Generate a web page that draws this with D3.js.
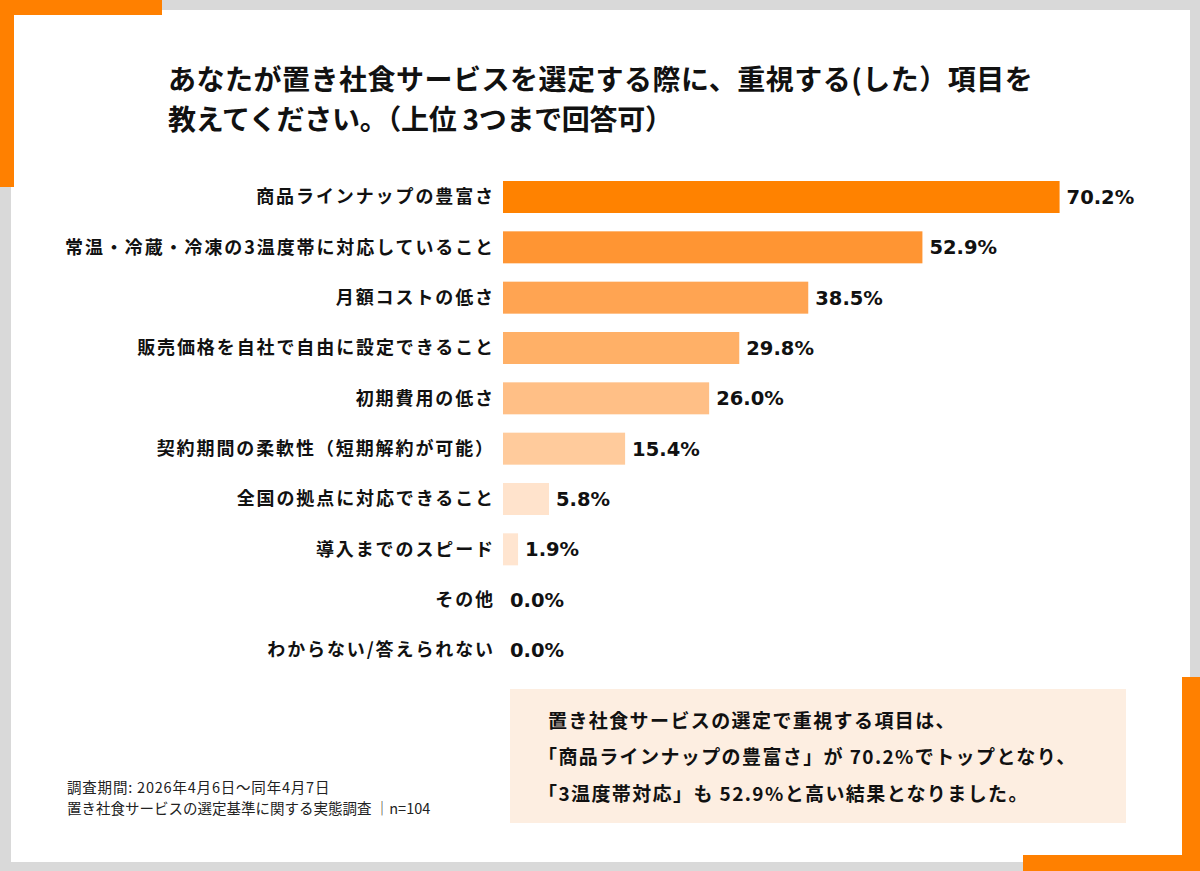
<!DOCTYPE html>
<html lang="ja">
<head>
<meta charset="utf-8">
<title>置き社食サービスの選定で重視する項目</title>
<script src="https://cdn.jsdelivr.net/npm/d3@7"></script>
<style>
  html, body { margin: 0; padding: 0; background: #d9d9d9; }
  svg { display: block; }
  text { font-family: "Noto Sans CJK JP", "Noto Sans", sans-serif; fill: #111; }
</style>
</head>
<body>
<script>
// --- data ---
const categories = [
    "商品ラインナップの豊富さ",
    "常温・冷蔵・冷凍の3温度帯に対応していること",
    "月額コストの低さ",
    "販売価格を自社で自由に設定できること",
    "初期費用の低さ",
    "契約期間の柔軟性（短期解約が可能）",
    "全国の拠点に対応できること",
    "導入までのスピード",
    "その他",
    "わからない/答えられない"
];
const values = [70.2, 52.9, 38.5, 29.8, 26.0, 15.4, 5.8, 1.9, 0.0, 0.0];

const titleLines = [
    "あなたが置き社食サービスを選定する際に、重視する(した）項目を",
    "教えてください。（上位 3つまで回答可）"
];
const noteLines = [
    "置き社食サービスの選定で重視する項目は、",
    "「商品ラインナップの豊富さ」が 70.2%でトップとなり、",
    "「3温度帯対応」も 52.9%と高い結果となりました。"
];
const footLines = [
    "調査期間: 2026年4月6日～同年4月7日",
    "置き社食サービスの選定基準に関する実態調査 │n=104"
];

// bar shades, darkest first
const barColors = ["#ff8200", "#ff9533", "#ffa452", "#ffb067", "#ffbf86",
                   "#ffcb9c", "#ffe3cc", "#ffe5d0", "#ffe8d6", "#ffe8d6"];
const orange = "#ff8000";

window.onload = function () {
    const width = 1200;
    const height = 871;

    const svg = d3.select("body").append("svg")
        .attr("width", width)
        .attr("height", height)
        .attr("viewBox", [0, 0, width, height]);

    // card + orange corner brackets
    svg.append("rect")
        .attr("x", 11).attr("y", 10)
        .attr("width", 1179).attr("height", 852)
        .attr("fill", "#ffffff");

    const corners = svg.append("g").attr("fill", orange);
    corners.append("rect").attr("x", 0).attr("y", 0).attr("width", 162).attr("height", 15);
    corners.append("rect").attr("x", 0).attr("y", 0).attr("width", 14).attr("height", 187);
    corners.append("rect").attr("x", 1182).attr("y", 677).attr("width", 18).attr("height", 194);
    corners.append("rect").attr("x", 1023).attr("y", 855).attr("width", 177).attr("height", 16);

    // title
    svg.append("g")
        .selectAll("text")
        .data(titleLines)
        .join("text")
        .attr("x", 168)
        .attr("y", (d, i) => 90 + i * 40)
        .attr("font-size", 28)
        .attr("font-weight", 700)
        .attr("letter-spacing", (d, i) => i === 0 ? 0.5 : -0.3)
        .text(d => d);

    // scales
    const x = d3.scaleLinear()
        .domain([0, 70])
        .range([503, 1058]);

    const y = d3.scalePoint()
        .domain(categories)
        .range([197, 650]);

    const barHeight = 32;
    const rows = categories.map((c, i) => ({name: c, value: values[i], color: barColors[i]}));

    svg.append("g")
        .selectAll("rect")
        .data(rows.filter(d => d.value > 0))
        .join("rect")
        .attr("x", x(0))
        .attr("y", d => y(d.name) - barHeight / 2)
        .attr("width", d => x(d.value) - x(0))
        .attr("height", barHeight)
        .attr("fill", d => d.color);

    // category labels
    svg.append("g")
        .selectAll("text")
        .data(rows)
        .join("text")
        .attr("x", 495)
        .attr("y", d => y(d.name))
        .attr("dy", "0.36em")
        .attr("text-anchor", "end")
        .attr("font-size", 18)
        .attr("font-weight", 700)
        .attr("letter-spacing", 1.9)
        .text(d => d.name);

    // value labels
    const fmt = d3.format(".1f");
    svg.append("g")
        .selectAll("text")
        .data(rows)
        .join("text")
        .attr("x", d => x(d.value) + 7)
        .attr("y", d => y(d.name))
        .attr("dy", "0.36em")
        .style("font-family", "'DejaVu Sans', sans-serif")
        .attr("font-size", 19.5)
        .attr("font-weight", 700)
        .text(d => fmt(d.value) + "%");

    // summary box
    svg.append("rect")
        .attr("x", 510).attr("y", 689)
        .attr("width", 616).attr("height", 134)
        .attr("fill", "#fdeee1");

    svg.append("g")
        .selectAll("text")
        .data(noteLines)
        .join("text")
        .attr("x", (d, i) => i === 0 ? 548 : 538)
        .attr("y", (d, i) => 721 + i * 36.5)
        .attr("dy", "0.36em")
        .attr("font-size", 19)
        .attr("font-weight", 700)
        .attr("letter-spacing", 1.4)
        .text(d => d);

    // footnote
    svg.append("g")
        .selectAll("text")
        .data(footLines)
        .join("text")
        .attr("x", 67)
        .attr("y", (d, i) => 788 + i * 20.5)
        .attr("dy", "0.36em")
        .attr("font-size", 14.5)
        .attr("letter-spacing", (d, i) => i === 0 ? 0.8 : 0)
        .style("fill", "#222")
        .text(d => d);
};
</script>
</body>
</html>
